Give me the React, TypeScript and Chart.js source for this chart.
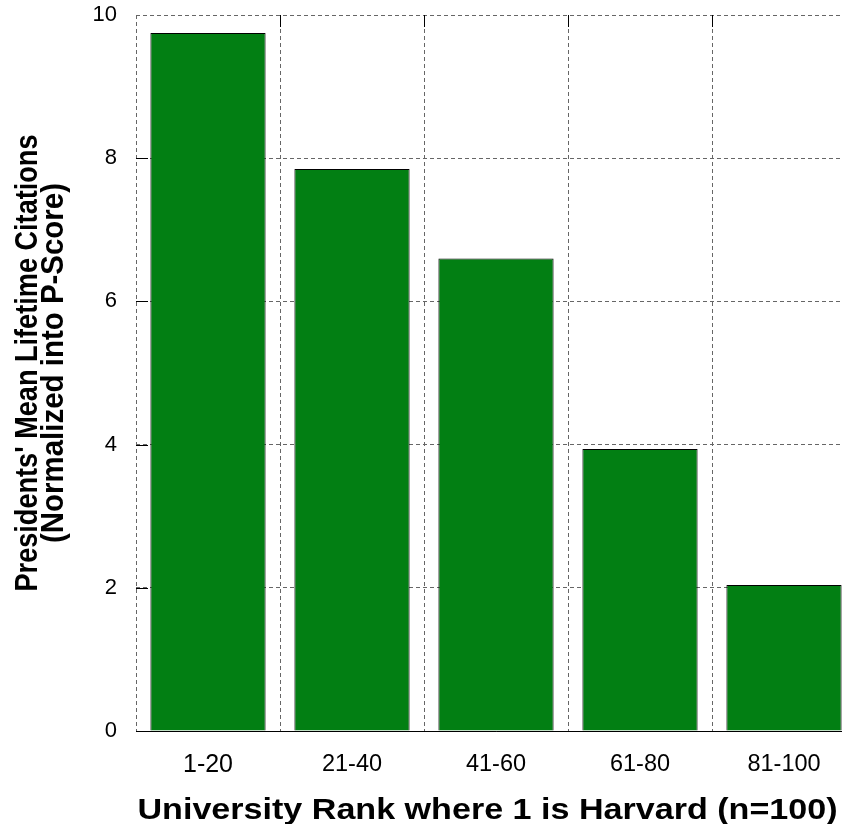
import React, { useEffect, useRef } from 'react';
import { Chart, registerables } from 'chart.js';

Chart.register(...registerables);

const categories = ['1-20', '21-40', '41-60', '61-80', '81-100'];
const meanCitations = [9.75, 7.85, 6.6, 3.94, 2.04];
const yTickValues = [0, 2, 4, 6, 8, 10];
const xTitle = 'University Rank where 1 is Harvard (n=100)';
const yTitleLines = ["Presidents' Mean Lifetime Citations", '(Normalized into P-Score)'];

const FONT = "'Liberation Sans', Arial, Helvetica, sans-serif";
const CANVAS_W = 870;
const CANVAS_H = 824;

const innerTicks = {
  id: 'innerTicks',
  afterDraw(chart: any) {
    const { ctx, chartArea } = chart;
    const yS = chart.scales.y;
    const xS = chart.scales.x;
    ctx.save();
    ctx.strokeStyle = '#000';
    ctx.lineWidth = 1;
    ctx.beginPath();
    yTickValues.forEach((v) => {
      if (v === yTickValues[0] || v === yTickValues[yTickValues.length - 1]) return;
      const y = Math.round(yS.getPixelForValue(v)) + 0.5;
      ctx.moveTo(chartArea.left, y);
      ctx.lineTo(chartArea.left + 12, y);
    });
    for (let i = 1; i < categories.length; i++) {
      const x = Math.round((xS.getPixelForValue(i - 1) + xS.getPixelForValue(i)) / 2) + 0.5;
      ctx.moveTo(x, chartArea.top);
      ctx.lineTo(x, chartArea.top + 12);
    }
    ctx.stroke();
    ctx.restore();
  },
};

const titles = {
  id: 'axisTitlesCustom',
  afterDraw(chart: any) {
    const { ctx } = chart;
    ctx.save();
    ctx.fillStyle = '#000';
    ctx.textAlign = 'center';
    ctx.textBaseline = 'alphabetic';
    // x title
    ctx.font = `bold 29px ${FONT}`;
    const w = ctx.measureText(xTitle).width;
    ctx.save();
    ctx.translate(487.5, 819);
    ctx.scale(700 / w, 1);
    ctx.fillText(xTitle, 0, 0);
    ctx.restore();
    // y title
    ctx.font = `bold 31px ${FONT}`;
    const targets = [457, 360];
    const baselines = [37, 63];
    yTitleLines.forEach((line, i) => {
      const lw = ctx.measureText(line).width;
      ctx.save();
      ctx.translate(baselines[i], 363);
      ctx.rotate(-Math.PI / 2);
      ctx.scale(targets[i] / lw, 1);
      ctx.fillText(line, 0, 0);
      ctx.restore();
    });
    ctx.restore();
  },
};

export default function App() {
  const ref = useRef<HTMLCanvasElement>(null);

  useEffect(() => {
    if (!ref.current) return;
    Chart.defaults.font.family = FONT;
    const chart = new Chart(ref.current, {
      type: 'bar',
      data: {
        labels: categories,
        datasets: [
          {
            data: meanCitations,
            backgroundColor: '#027f13',
            borderColor: '#000',
            borderWidth: 1,
            barPercentage: 0.8,
            categoryPercentage: 1,
          },
        ],
      },
      options: {
        responsive: false,
        animation: false,
        devicePixelRatio: 1,
        layout: { padding: { top: 15, right: CANVAS_W - 856, bottom: 0, left: 0 } },
        plugins: { legend: { display: false }, tooltip: { enabled: false } },
        scales: {
          x: {
            offset: true,
            grid: { display: true, offset: true, color: '#666', lineWidth: 1, drawTicks: false },
            border: { display: true, color: '#000', width: 1, dash: [4, 3] },
            ticks: {
              color: '#000',
              padding: 19,
              font: (c: any) => ({ size: c.index === 0 ? 25 : 23.5, family: FONT }),
            },
            afterFit(s: any) {
              s.height = 93;
            },
          },
          y: {
            min: 0,
            max: 10,
            grid: {
              color: '#666',
              lineWidth: 1,
              drawTicks: true,
              tickLength: 19,
              tickColor: 'rgba(0,0,0,0)',
            },
            border: { display: false, dash: [4, 3] },
            ticks: {
              stepSize: 2,
              color: '#000',
              padding: 0,
              font: { size: 22, family: FONT },
            },
            afterFit(s: any) {
              s.width = 136;
            },
          },
        },
      },
      plugins: [innerTicks, titles],
    });
    return () => chart.destroy();
  }, []);

  return (
    <div
      style={{
        position: 'absolute',
        left: 0,
        top: 0,
        width: 842,
        height: 824,
        overflow: 'hidden',
        background: '#fff',
      }}
    >
      <canvas
        ref={ref}
        width={CANVAS_W}
        height={CANVAS_H}
        style={{ display: 'block', width: CANVAS_W + 'px', height: CANVAS_H + 'px' }}
      />
    </div>
  );
}
